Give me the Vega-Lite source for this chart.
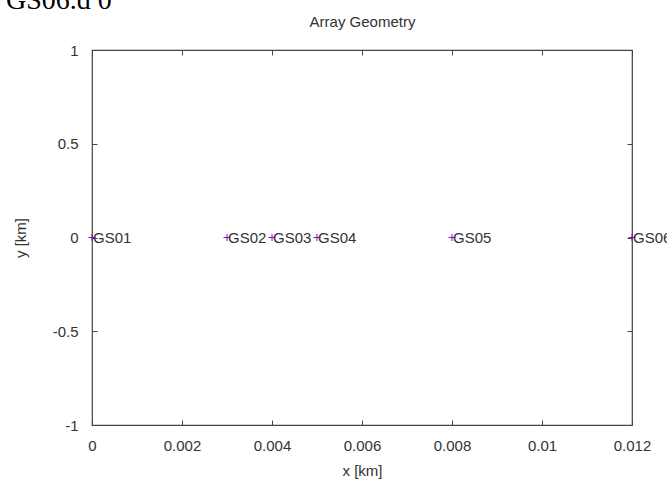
{
  "$schema": "https://vega.github.io/schema/vega-lite/v6.json",
  "width": 540,
  "height": 375,
  "autosize": "none",
  "padding": {"left": 92, "top": 50, "right": 35, "bottom": 55},
  "background": "white",
  "title": {
    "text": "GS06.d 0",
    "anchor": "start",
    "frame": "group",
    "font": "Liberation Serif",
    "fontSize": 28,
    "fontWeight": "normal",
    "color": "#000000",
    "dx": -86,
    "dy": 22,
    "baseline": "alphabetic",
    "offset": 0
  },
  "data": {
    "values": [
      {"x": 0, "y": 0, "name": "GS01"},
      {"x": 0.003, "y": 0, "name": "GS02"},
      {"x": 0.004, "y": 0, "name": "GS03"},
      {"x": 0.005, "y": 0, "name": "GS04"},
      {"x": 0.008, "y": 0, "name": "GS05"},
      {"x": 0.012, "y": 0, "name": "GS06"}
    ]
  },
  "layer": [
    {
      "mark": {"type": "point", "shape": "M-1,0H1M0,-1V1", "filled": false, "stroke": "#9400d3", "strokeWidth": 1, "size": 49, "opacity": 1},
      "encoding": {
        "x": {
          "field": "x", "type": "quantitative",
          "scale": {"domain": [0, 0.012], "nice": false, "zero": false},
          "axis": {"orient": "bottom", "values": [0, 0.002, 0.004, 0.006, 0.008, 0.01, 0.012], "labelExpr": "'' + datum.value", "labelFlush": false, "tickSize": -5, "labelPadding": 18, "title": "x [km]", "titlePadding": 10}
        },
        "y": {
          "field": "y", "type": "quantitative",
          "scale": {"domain": [-1, 1], "nice": false, "zero": false},
          "axis": {"orient": "left", "values": [-1, -0.5, 0, 0.5, 1], "labelExpr": "'' + datum.value", "labelFlush": false, "tickSize": -5, "labelPadding": 19, "title": "y [km]", "titlePadding": 24}
        }
      }
    },
    {
      "mark": {"type": "text", "align": "left", "baseline": "middle", "dx": 1, "fontSize": 15, "font": "Liberation Sans", "color": "#333333"},
      "encoding": {
        "text": {"field": "name"},
        "x": {
          "field": "x", "type": "quantitative",
          "scale": {"domain": [0, 0.012], "nice": false, "zero": false},
          "axis": {"orient": "top", "values": [0, 0.002, 0.004, 0.006, 0.008, 0.01, 0.012], "labels": false, "tickSize": -5, "title": "Array Geometry", "titlePadding": 20}
        },
        "y": {
          "field": "y", "type": "quantitative",
          "scale": {"domain": [-1, 1], "nice": false, "zero": false},
          "axis": {"orient": "right", "values": [-1, -0.5, 0, 0.5, 1], "labels": false, "tickSize": -5, "title": null}
        }
      }
    }
  ],
  "resolve": {"axis": {"x": "independent", "y": "independent"}},
  "config": {
    "view": {"stroke": "#444444", "strokeWidth": 1.2},
    "axis": {
      "domain": false,
      "grid": false,
      "tickColor": "#444444",
      "tickWidth": 1,
      "labelFont": "Liberation Sans",
      "labelFontSize": 15,
      "labelColor": "#333333",
      "titleFont": "Liberation Sans",
      "titleFontSize": 15,
      "titleFontWeight": "normal",
      "titleColor": "#333333"
    }
  }
}
